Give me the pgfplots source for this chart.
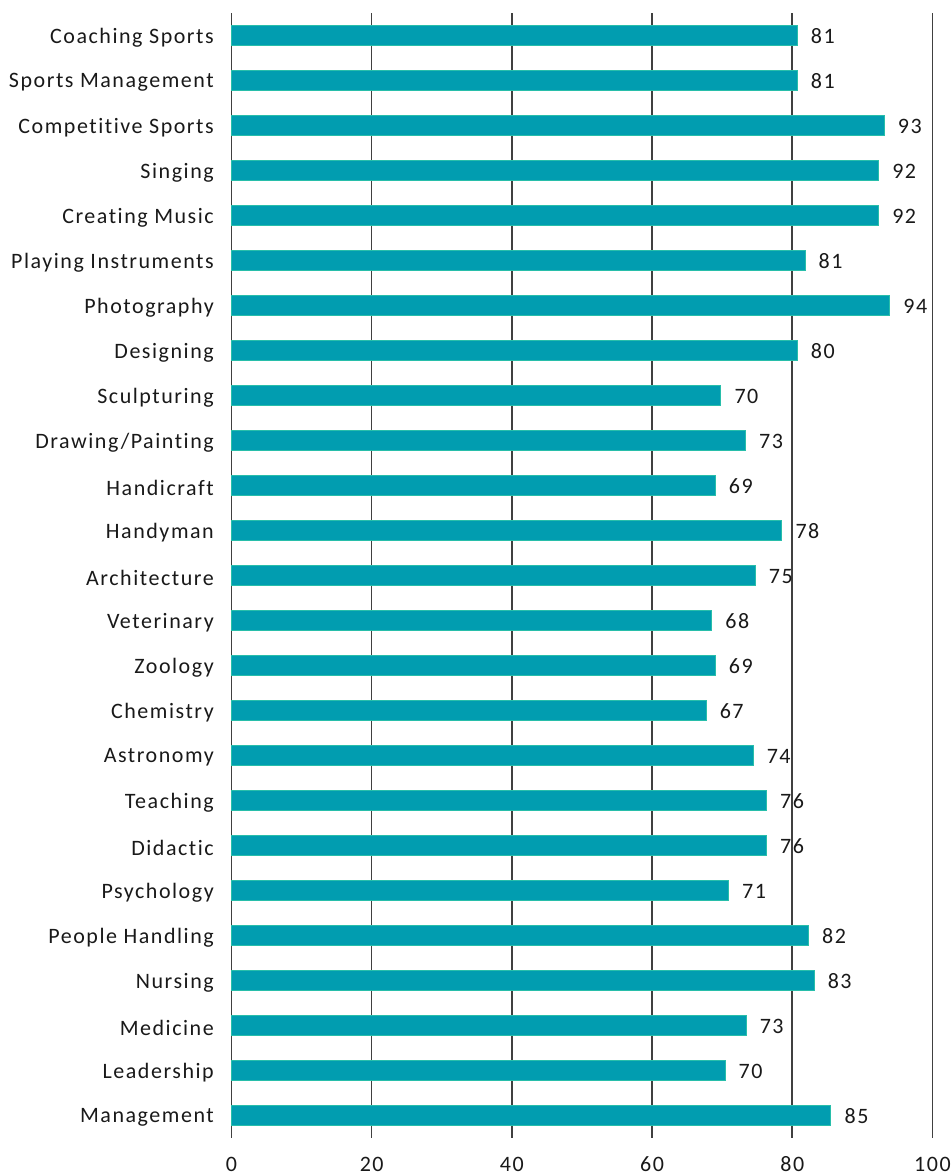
\documentclass[border=0pt]{standalone}
\usepackage{pgfplots}
\usepackage{pgfplotstable}
\pgfplotsset{compat=1.18}
\usepackage{fontspec}
\setmainfont{Carlito}[LetterSpace=7, Ligatures={NoCommon}]
\definecolor{barfill}{RGB}{1,157,176}
\definecolor{baredge}{RGB}{40,190,170}
\definecolor{gridc}{RGB}{64,64,64}
\pgfplotstableread{
pos val lab
0 80.7 81
1 80.7 81
2 93.1 93
3 92.3 92
4 92.3 92
5 81.8 81
6 93.9 94
7 80.7 80
8 69.8 70
9 73.3 73
10 69.0 69
11 78.5 78
12 74.7 75
13 68.5 68
14 69.0 69
15 67.7 67
16 74.4 74
17 76.3 76
18 76.3 76
19 70.9 71
20 82.3 82
21 83.1 83
22 73.4 73
23 70.4 70
24 85.5 85
}\data
\begin{document}
\fontsize{11pt}{13.2pt}\selectfont
\begin{tikzpicture}
\path[use as bounding box] (-115.75pt,-18.5pt) rectangle (359.25pt,569pt);
\begin{axis}[
  at={(0,0)}, anchor=south west,
  width=350.5pt, height=562.5pt, scale only axis,
  xbar, bar width=9.75pt,
  xmin=0, xmax=100, ymin=-0.5, ymax=24.5,
  y dir=reverse,
  xtick={0,20,...,100},
  ytick={0,...,24},
  yticklabels={Coaching Sports, Sports Management, Competitive Sports, Singing, Creating Music, Playing Instruments, Photography, Designing, Sculpturing, Drawing/Painting, Handicraft, Handyman, Architecture, Veterinary, Zoology, Chemistry, Astronomy, Teaching, Didactic, Psychology, People Handling, Nursing, Medicine, Leadership, Management},
  xmajorgrids,
  grid style={line width=0.8pt, color=gridc},
  axis line style={draw=none},
  major tick length=0pt,
  /pgf/number format/assume math mode=true,
  tick label style={font=\fontsize{11pt}{13.2pt}\selectfont, text=black!90},
  x tick label style={yshift=-5.5pt},
  y tick label style={xshift=-5pt, yshift=-1pt},
  nodes near coords,
  point meta=explicit symbolic,
  every node near coord/.append style={anchor=west, xshift=3pt, yshift=-0.5pt, font=\fontsize{11pt}{13.2pt}\selectfont, text=black!90},
  clip=false,
]
\addplot[fill=barfill, draw=baredge, line width=0.4pt] table[x=val, y=pos, meta=lab] {\data};
\end{axis}
\end{tikzpicture}
\end{document}
